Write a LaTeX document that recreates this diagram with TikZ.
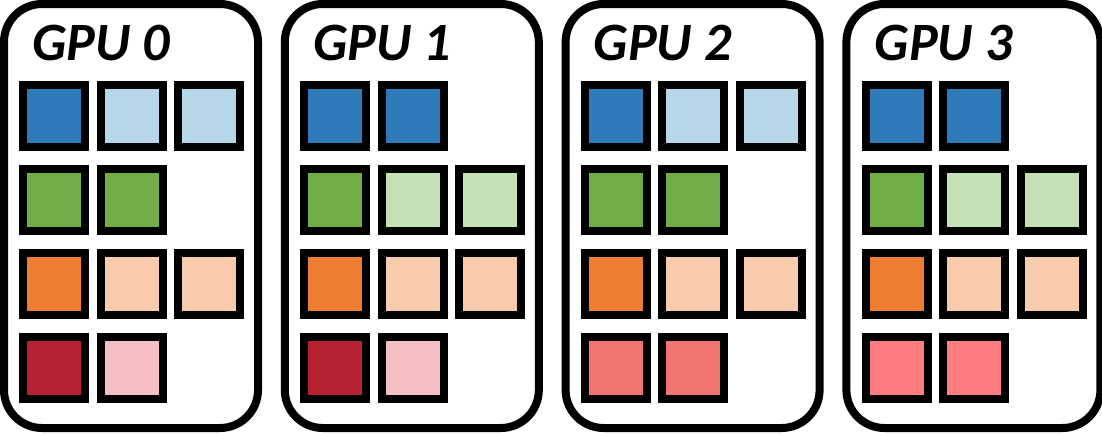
\documentclass[tikz,border=0pt]{standalone}
\usepackage{fontspec}
\setmainfont{Carlito}
\definecolor{cDB}{HTML}{2F7AB9}
\definecolor{cLB}{HTML}{B6D7E8}
\definecolor{cG}{HTML}{70AD47}
\definecolor{cLG}{HTML}{C5E0B4}
\definecolor{cO}{HTML}{ED7D31}
\definecolor{cLO}{HTML}{F8CBAD}
\definecolor{cR}{HTML}{B72230}
\definecolor{cP}{HTML}{F4BEC2}
\definecolor{cS}{HTML}{F07470}
\definecolor{cPR}{HTML}{FF7C80}
\begin{document}
\begin{tikzpicture}[x=1pt,y=-1pt,
  panel/.style={draw=black, line width=8pt, rounded corners=38pt, minimum width=254pt, minimum height=424pt, inner sep=0pt, fill=white},
  sq/.style={draw=black, line width=8pt, minimum size=62pt, inner sep=0pt},
  lbl/.style={font=\fontsize{54}{64}\selectfont\bfseries\itshape, anchor=base west, inner sep=0pt}]
\useasboundingbox (0,0) rectangle (1102,434);
\foreach \p in {0,1,2,3}{
  \node[panel] (gpu\p) at ({131+280.8*\p},216) {};
  \node[lbl] (lbl\p) at ({32+280.8*\p},60.5) {GPU \p};
}
\foreach \p/\r/\c/\col in {
  0/1/1/cDB,0/1/2/cLB,0/1/3/cLB,0/2/1/cG,0/2/2/cG,0/3/1/cO,0/3/2/cLO,0/3/3/cLO,0/4/1/cR,0/4/2/cP,
  1/1/1/cDB,1/1/2/cDB,1/2/1/cG,1/2/2/cLG,1/2/3/cLG,1/3/1/cO,1/3/2/cLO,1/3/3/cLO,1/4/1/cR,1/4/2/cP,
  2/1/1/cDB,2/1/2/cLB,2/1/3/cLB,2/2/1/cG,2/2/2/cG,2/3/1/cO,2/3/2/cLO,2/3/3/cLO,2/4/1/cS,2/4/2/cS,
  3/1/1/cDB,3/1/2/cDB,3/2/1/cG,3/2/2/cLG,3/2/3/cLG,3/3/1/cO,3/3/2/cLO,3/3/3/cLO,3/4/1/cPR,3/4/2/cPR}{
  \node[sq, fill=\col] (s\p-\r-\c) at ({4+280.8*\p+50.3+77.5*(\c-1)},{115.5+84.1*(\r-1)}) {};
}
\end{tikzpicture}
\end{document}
